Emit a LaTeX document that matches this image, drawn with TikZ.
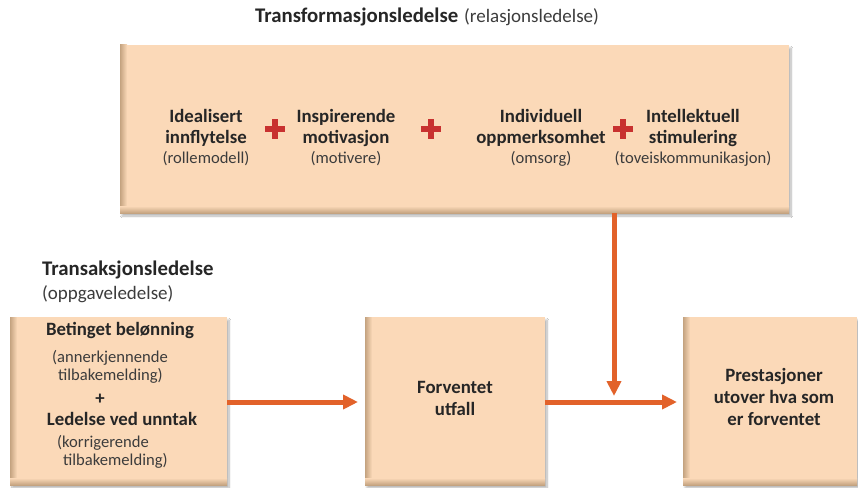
\documentclass[tikz,border=0pt]{standalone}
\usepackage{fontspec}
\setmainfont{Carlito}
\usetikzlibrary{arrows.meta,shadows.blur}
\definecolor{peach}{HTML}{FBD9B8}
\definecolor{peachdark}{HTML}{C4A380}
\definecolor{arrorange}{HTML}{E2622A}
\definecolor{plusred}{HTML}{C8312F}
\definecolor{txt}{HTML}{262626}
\definecolor{subtxt}{HTML}{3C3C3C}
\tikzset{
  x=1pt, y=-1pt,
  lbl/.style={font=\fontsize{18.8}{21}\selectfont\bfseries, text=txt, inner sep=0pt, anchor=base},
  sub/.style={font=\fontsize{16.6}{20}\selectfont, text=subtxt, inner sep=0pt, anchor=base},
  subl/.style={sub, anchor=base west},
  headb/.style={font=\fontsize{20.8}{24}\selectfont\bfseries, text=txt, inner sep=0pt},
  headr/.style={font=\fontsize{19}{24}\selectfont, text=subtxt, inner sep=0pt},
  plusbar/.style={fill=plusred},
  flow/.style={draw=arrorange, line width=5pt, -{Triangle[length=15pt,width=14pt]}},
}
\newcommand{\peachbox}[5]{%
  \fill[peach, blur shadow={shadow xshift=2pt, shadow yshift=-3pt, shadow blur steps=10, shadow opacity=30}] (#1,#2) rectangle (#3,#4);
  \shade[left color=peachdark, right color=peach] (#1,#2) rectangle ++(7,#4-#2);
  \shade[bottom color=peachdark, top color=peach] (#1,#4-7) rectangle (#3,#4);
  \coordinate (#5) at ({(#1+#3)/2},{(#2+#4)/2});
}
\newcommand{\redplus}[3]{%
  \fill[plusred] (#1-10,#2-2.6) rectangle (#1+10,#2+2.6);
  \fill[plusred] (#1-2.6,#2-10) rectangle (#1+2.6,#2+10);
  \coordinate (#3) at (#1,#2);
}
\begin{document}
\begin{tikzpicture}
\useasboundingbox[fill=white] (0,0) rectangle (858,487);
% boxes
\peachbox{120}{45}{789}{213}{topbox}
\peachbox{10}{317}{227}{485}{leftbox}
\peachbox{365}{317}{545}{485}{midbox}
\peachbox{683}{317}{857}{485}{rightbox}
\coordinate (lbE) at (227,402);
\coordinate (mbW) at (358,402);
\coordinate (mbE) at (545,402);
\coordinate (rbW) at (677,402);
\coordinate (tbS) at (614,213);
\coordinate (join) at (614,396);

% title
\node[headb, anchor=base west] (title) at (255,23) {Transformasjonsledelse};
\node[headr, anchor=base west] (titlesub) at (464,23) {(relasjonsledelse)};

% top box content
\node[lbl] (c1a) at (206,122) {Idealisert};
\node[lbl] (c1b) at (206,143) {innflytelse};
\node[sub] (s1) at (206,163) {(rollemodell)};
\redplus{275}{129}{p1}
\node[lbl] (c2a) at (346,122) {Inspirerende};
\node[lbl] (c2b) at (346,143) {motivasjon};
\node[sub] (s2) at (346,163) {(motivere)};
\redplus{431}{129}{p2}
\node[lbl] (c3a) at (541,122) {Individuell};
\node[lbl] (c3b) at (541,143) {oppmerksomhet};
\node[sub] (s3) at (541,163) {(omsorg)};
\redplus{623}{129}{p3}
\node[lbl] (c4a) at (693,122) {Intellektuell};
\node[lbl] (c4b) at (693,143) {stimulering};
\node[sub] (s4) at (693,163) {(toveiskommunikasjon)};

% transaksjon heading
\node[headb, anchor=base west] (trh) at (42,275) {Transaksjonsledelse};
\node[headr, anchor=base west] (trs) at (42,299) {(oppgaveledelse)};

% left box content
\node[lbl] (b1) at (120,335) {Betinget belønning};
\node[subl] (b2) at (52,362) {(annerkjennende};
\node[subl] (b2b) at (58,380) {tilbakemelding)};
\node[lbl] (bp) at (100,404) {+};
\node[lbl] (b3) at (122,425) {Ledelse ved unntak};
\node[subl] (b4) at (57,447) {(korrigerende};
\node[subl] (b4b) at (63,465) {tilbakemelding)};

% middle and right
\node[lbl] (ma) at (455,393) {Forventet};
\node[lbl] (mb) at (455,415) {utfall};
\node[lbl] (ra) at (774,381) {Prestasjoner};
\node[lbl] (rb) at (774,403) {utover hva som};
\node[lbl] (rc) at (774,425) {er forventet};

% arrows
\draw[flow] (lbE) -- (mbW);
\draw[flow] (mbE) -- (rbW);
\draw[flow] (tbS) -- (join);
\end{tikzpicture}
\end{document}
